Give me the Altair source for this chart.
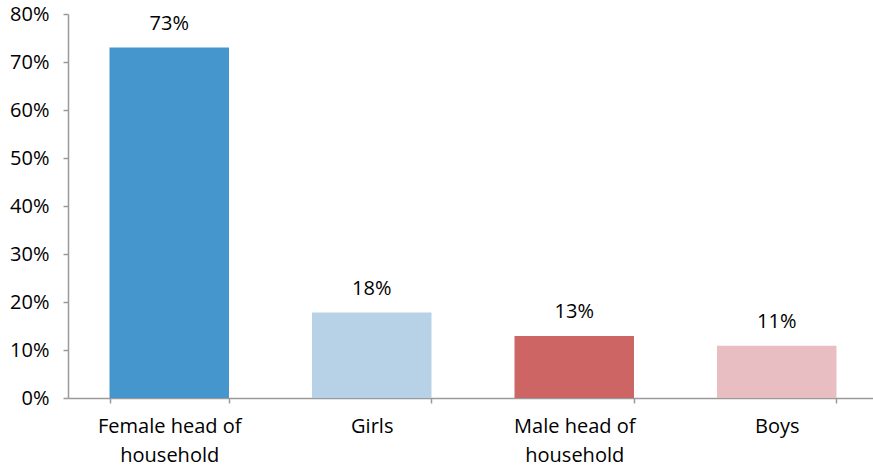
import altair as alt
import pandas as pd

categories = ["Female head of household", "Girls", "Male head of household", "Boys"]
values = [0.73, 0.178, 0.129, 0.109]
labels = ["73%", "18%", "13%", "11%"]
colors = ["#4596CD", "#B7D2E7", "#CD6565", "#E8BEC3"]
wrapped = {"Female head of household": ["Female head of", "household"],
           "Male head of household": ["Male head of", "household"]}

df = pd.DataFrame({"cat": categories, "val": values, "lab": labels})

expr = "datum.label"
for k, v in wrapped.items():
    expr = f"datum.label == '{k}' ? ['{v[0]}', '{v[1]}'] : " + expr

FONT = "Open Sans"
AX = "#9A9A9A"
FS = 20

x = alt.X("cat:N", sort=categories, title=None,
          scale=alt.Scale(paddingInner=0.41, paddingOuter=0.205, range=[0, 810]),
          axis=alt.Axis(labelAngle=0, labelExpr=expr, labelFont=FONT, labelFontSize=FS,
                        labelColor="#000000", labelLineHeight=29, labelPadding=13,
                        tickSize=5, tickColor=AX, domainColor=AX, domainWidth=1.5,
                        tickWidth=1.5, tickBand="extent", grid=False))

y = alt.Y("val:Q", title=None,
          scale=alt.Scale(domain=[0, 0.8], nice=False),
          axis=alt.Axis(format=".0%", values=[i / 10 for i in range(9)],
                        labelFont=FONT, labelFontSize=FS, labelColor="#000000",
                        labelPadding=14, tickSize=5, tickColor=AX, domainColor=AX,
                        domainWidth=1.5, tickWidth=1.5, grid=False))

bars = alt.Chart(df).mark_bar().encode(
    x=x, y=y,
    color=alt.Color("cat:N", sort=categories,
                    scale=alt.Scale(domain=categories, range=colors), legend=None),
)

text = alt.Chart(df).mark_text(font=FONT, fontSize=FS, color="#000000",
                               baseline="alphabetic", dy=-18).encode(
    x=alt.X("cat:N", sort=categories), y="val:Q", text="lab:N")

chart = (bars + text).properties(
    width=805, height=384,
    padding={"left": 68, "top": 14, "right": 0, "bottom": 69},
    autosize=alt.AutoSizeParams(type="none"),
    background="white",
).configure_view(stroke=None)

chart.save("out.html", embed_options={"renderer": "svg", "actions": False})
